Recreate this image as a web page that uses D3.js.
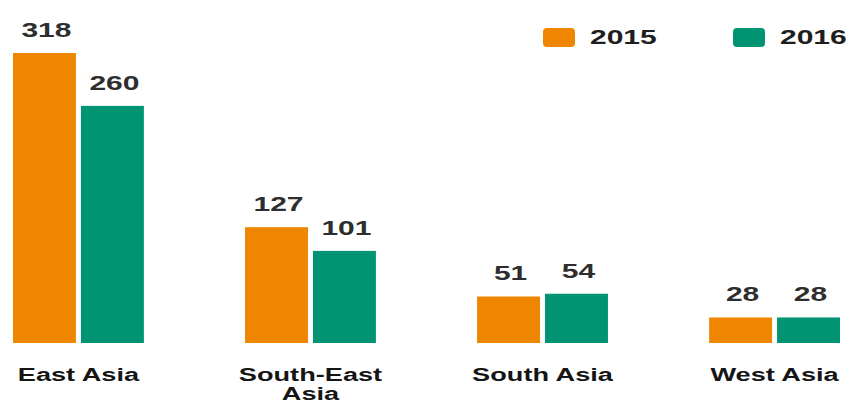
<!DOCTYPE html>
<html>
<head>
<meta charset="utf-8">
<script src="https://cdn.jsdelivr.net/npm/d3@7"></script>
<style>
  html, body { margin: 0; padding: 0; background: #fff; }
  svg { display: block; font-family: "Liberation Sans", Arial, Helvetica, sans-serif; font-weight: bold; }
</style>
</head>
<body>
<svg id="chart" width="852" height="403"></svg>
<script>
// Regions and yearly values
const categories = ["East Asia", "South-East Asia", "South Asia", "West Asia"];
const years = ["2015", "2016"];
const values2015 = [318, 127, 51, 28];
const values2016 = [260, 101, 54, 28];
const colors = ["#ee8600", "#009473"];

const rows = categories.map((c, i) => ({ category: c, values: [values2015[i], values2016[i]] }));

const svg = d3.select("#chart");
const baseline = 343;

const x0 = d3.scaleBand().domain(categories).range([13, 840]).paddingInner(0.436).paddingOuter(0);
const x1 = d3.scaleBand().domain(years).range([0, x0.bandwidth()]).paddingInner(0.0735).paddingOuter(0);
const y = d3.scaleLinear().domain([0, d3.max(values2015.concat(values2016))]).range([baseline, 53]);
const color = d3.scaleOrdinal().domain(years).range(colors);

// Horizontally widened text, as in the set typeface
function wideText(sel, sx) {
  return sel.attr("transform", d => `translate(${d.x},${d.y}) scale(${sx},1)`);
}

const groups = svg.append("g").selectAll("g").data(rows).join("g")
  .attr("transform", d => `translate(${x0(d.category)},0)`);

const bars = groups.selectAll("g.bar").data(d => years.map((yr, j) => ({ year: yr, value: d.values[j] })))
  .join("g").attr("class", "bar");

bars.append("rect")
  .attr("x", d => x1(d.year))
  .attr("y", d => y(d.value))
  .attr("width", x1.bandwidth())
  .attr("height", d => baseline - y(d.value))
  .attr("fill", d => color(d.year));

bars.append("text")
  .datum(d => ({ text: d.value, x: x1(d.year) + x1.bandwidth() / 2 + 2, y: y(d.value) - 16 }))
  .call(wideText, 1.5)
  .attr("text-anchor", "middle")
  .attr("font-size", 20)
  .attr("fill", "#2e2e2e")
  .text(d => d.text);

// Category labels, wrapped to two lines when wider than the group
const labelG = svg.append("g");
rows.forEach(r => {
  const cx = x0(r.category) + x0.bandwidth() / 2;
  const cut = r.category.lastIndexOf(" ");
  const lines = r.category.length > 12 ? [r.category.slice(0, cut), r.category.slice(cut + 1)] : [r.category];
  lines.forEach((ln, k) => {
    labelG.append("text")
      .datum({ x: cx, y: 381 + k * 19 })
      .call(wideText, 1.43)
      .attr("text-anchor", "middle")
      .attr("font-size", 19)
      .attr("fill", "#151515")
      .text(ln);
  });
});

// Legend
const legendX = [543, 733];
const legend = svg.append("g").selectAll("g").data(years).join("g")
  .attr("transform", (d, i) => `translate(${legendX[i]},28)`);
legend.append("rect")
  .attr("width", 32).attr("height", 19).attr("rx", 4)
  .attr("fill", d => color(d));
legend.append("text")
  .datum(d => ({ text: d, x: 47, y: 16 }))
  .call(wideText, 1.5)
  .attr("font-size", 20)
  .attr("fill", "#1e1e1e")
  .text(d => d.text);
</script>
</body>
</html>
